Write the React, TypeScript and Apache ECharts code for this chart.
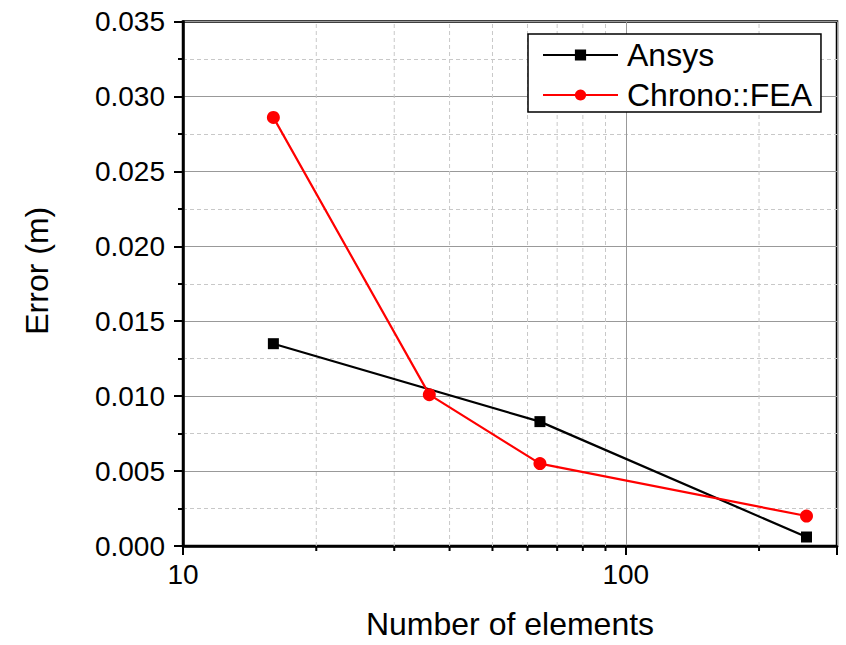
import React, { useEffect, useRef } from "react";
import * as echarts from "echarts";

const ansysElements = [16, 64, 256];
const ansysError = [0.0135, 0.0083, 0.0006];
const chronoElements = [16, 36, 64, 256];
const chronoError = [0.0286, 0.0101, 0.0055, 0.002];
const xMinorTicks = [20, 30, 40, 50, 60, 70, 80, 90, 200];
const xMajorLabels = [10, 100];
const FONT = "'Liberation Sans', Arial, sans-serif";

export default function App() {
  const ref = useRef<HTMLDivElement>(null);
  useEffect(() => {
    if (!ref.current) return;
    const chart = echarts.init(ref.current, null, { renderer: "svg" });
    const yMax = 0.035;
    chart.setOption({
      animation: false,
      backgroundColor: "#fff",
      textStyle: { fontFamily: FONT },
      grid: {
        left: 183,
        right: 9,
        top: 21.5,
        bottom: 97.5,
        show: true,
        borderColor: "#000",
        borderWidth: 2.5,
        backgroundColor: "transparent",
      },
      legend: {
        left: 528,
        top: 34,
        orient: "vertical",
        backgroundColor: "#fff",
        borderColor: "#000",
        borderWidth: 1.5,
        borderRadius: 0,
        padding: [4, 9, 0, 14],
        itemWidth: 75,
        itemHeight: 14,
        itemGap: 6,
        textStyle: {
          fontFamily: FONT,
          fontSize: 32,
          color: "#000",
          lineHeight: 34,
          padding: [0, 0, 0, 4],
        },
        data: ["Ansys", "Chrono::FEA"],
      },
      xAxis: {
        type: "log",
        logBase: 10,
        min: 10,
        max: 300,
        name: "Number of elements",
        nameLocation: "middle",
        nameGap: 62,
        nameTextStyle: { fontFamily: FONT, fontSize: 32, color: "#000" },
        axisLine: { show: true, lineStyle: { color: "#000", width: 2.5 } },
        axisTick: { show: true, length: 9, lineStyle: { color: "#000", width: 2 } },
        axisLabel: {
          fontFamily: FONT,
          fontSize: 28,
          color: "#000",
          margin: 14,
          formatter: (v: number) =>
            xMajorLabels.some((m) => Math.abs(m - v) < 1e-6) ? String(Math.round(v)) : "",
        },
        splitLine: { show: true, lineStyle: { color: "#999", width: 1 } },
      },
      yAxis: {
        type: "value",
        min: 0,
        max: yMax,
        interval: 0.005,
        name: "Error (m)",
        nameLocation: "middle",
        nameGap: 130,
        nameTextStyle: { fontFamily: FONT, fontSize: 32, color: "#000", padding: [0, 0, 0, 26] },
        axisLine: { show: true, lineStyle: { color: "#000", width: 2.5 } },
        axisTick: { show: true, length: 9, lineStyle: { color: "#000", width: 2 } },
        minorTick: { show: true, splitNumber: 2, length: 5, lineStyle: { color: "#000", width: 2 } },
        axisLabel: {
          fontFamily: FONT,
          fontSize: 28,
          color: "#000",
          margin: 18,
          formatter: (v: number) => v.toFixed(3),
        },
        splitLine: { show: true, lineStyle: { color: "#999", width: 1 } },
        minorSplitLine: { show: true, lineStyle: { color: "#c8c8c8", width: 1, type: [4, 3] } },
      },
      series: [
        {
          type: "custom",
          silent: true,
          clip: false,
          z: 1,
          data: xMinorTicks.map((v) => [v]),
          renderItem: (params: any, api: any) => {
            const v = api.value(0);
            const bottom = api.coord([v, 0]);
            const top = api.coord([v, yMax]);
            return {
              type: "group",
              children: [
                {
                  type: "line",
                  shape: { x1: bottom[0], y1: bottom[1], x2: top[0], y2: top[1] },
                  style: { stroke: "#c8c8c8", lineWidth: 1, lineDash: [4, 3] },
                },
                {
                  type: "line",
                  shape: { x1: bottom[0], y1: bottom[1], x2: bottom[0], y2: bottom[1] + 5 },
                  style: { stroke: "#000", lineWidth: 2 },
                },
              ],
            };
          },
        },
        {
          name: "Ansys",
          type: "line",
          z: 3,
          data: ansysElements.map((x, i) => [x, ansysError[i]]),
          symbol: "rect",
          symbolSize: 11,
          itemStyle: { color: "#000" },
          lineStyle: { color: "#000", width: 2.2 },
        },
        {
          name: "Chrono::FEA",
          type: "line",
          z: 4,
          data: chronoElements.map((x, i) => [x, chronoError[i]]),
          symbol: "circle",
          symbolSize: 13,
          itemStyle: { color: "#ff0000" },
          lineStyle: { color: "#ff0000", width: 2.2 },
        },
      ],
    });
    return () => chart.dispose();
  }, []);
  return <div ref={ref} style={{ width: 846, height: 645, position: "absolute", left: 0, top: 0 }} />;
}
